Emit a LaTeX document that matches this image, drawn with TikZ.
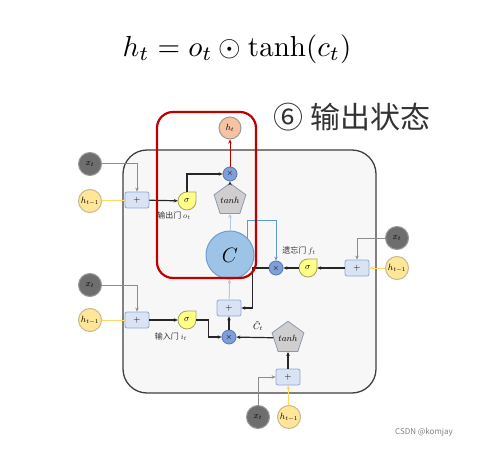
\documentclass[tikz,border=0pt]{standalone}
\usepackage{fontspec}
\newfontfamily\cjk{Noto Sans CJK SC}
\usetikzlibrary{shapes.geometric,arrows.meta,backgrounds}

\definecolor{cellfill}{HTML}{F7F7F7}
\definecolor{celldraw}{HTML}{3F3F3F}
\definecolor{xfill}{HTML}{6E6E6E}
\definecolor{xdraw}{HTML}{9A9A9A}
\definecolor{hfill}{HTML}{FFE699}
\definecolor{hdraw}{HTML}{C9B98A}
\definecolor{outfill}{HTML}{F8C3A3}
\definecolor{mulfill}{HTML}{7F9FD9}
\definecolor{muldraw}{HTML}{5577BB}
\definecolor{sumfill}{HTML}{DAE3F3}
\definecolor{sumdraw}{HTML}{8EAAD6}
\definecolor{cfill}{HTML}{9DC3E6}
\definecolor{cdraw}{HTML}{6D9FD0}
\definecolor{tanhfill}{HTML}{D0CECE}
\definecolor{tanhdraw}{HTML}{8A9AB5}
\definecolor{sigfill}{HTML}{FFFF88}
\definecolor{sigdraw}{HTML}{A5A55A}
\definecolor{redbox}{HTML}{C00000}
\definecolor{xline}{HTML}{8C8C8C}
\definecolor{hline}{HTML}{FFD966}
\definecolor{cline}{HTML}{5B9BD5}
\definecolor{paleline}{HTML}{B4C7E7}

\tikzset{
  xin/.style={circle,fill=xfill,draw=xdraw,line width=1pt,minimum size=23pt,inner sep=0pt,font=\small},
  hin/.style={circle,fill=hfill,draw=hdraw,line width=1pt,minimum size=23pt,inner sep=0pt,font=\small},
  hout/.style={circle,fill=outfill,draw=xdraw,line width=1pt,minimum size=22pt,inner sep=0pt,font=\small},
  mul/.style={circle,fill=mulfill,draw=muldraw,line width=0.8pt,minimum size=14pt,inner sep=0pt,font=\footnotesize},
  sum/.style={rectangle,rounded corners=2pt,fill=sumfill,draw=sumdraw,line width=0.8pt,minimum width=24pt,minimum height=16pt,inner sep=0pt,font=\small},
  sig/.style={circle,minimum size=18pt,inner sep=0pt,font=\small},
  tanhbox/.style={regular polygon,regular polygon sides=5,fill=tanhfill,draw=tanhdraw,line width=0.8pt,minimum size=28pt,inner sep=0pt,font=\small},
  gatelbl/.style={font=\cjk\fontsize{8}{9}\selectfont,text=black!80},
  arr/.style={->,line width=1.2pt,black!85},
  xarr/.style={line width=1pt,xline},
  harr/.style={line width=1pt,hline},
  carr/.style={->,line width=1pt,cline},
  parr/.style={->,line width=1pt,paleline},
}

\begin{document}
\begin{tikzpicture}[x=1pt,y=1pt,>={Stealth[length=4pt,width=3.5pt]}]
  \useasboundingbox (0,0) rectangle (479,-449);
  % formula e titolo
  \node[scale=2.9] (form) at (237,-49) {$h_t = o_t\odot\tanh(c_t)$};
  \node (titolo) at (352,-117) {\cjk\fontsize{30}{36}\selectfont\color{black!80}⑥ 输出状态};
  % stato
  \node[circle,fill=cfill,draw=cdraw,line width=1pt,minimum size=48pt,inner sep=0pt] (C) at (230,-255) {\huge $C$};
  \node[tanhbox] (to) at (230,-200) {$tanh$};
  \node[mul] (mo) at (230,-174) {$\times$};
  \node[hout] (ht) at (230,-128) {$h_t$};
  % porta di uscita
  \node[xin] (xo) at (90,-164) {$x_t$};
  \node[hin] (ho) at (90,-201) {$h_{t-1}$};
  \node[sum] (po) at (137,-200) {$+$};
  \node[sig] (so) at (187,-201) {$\sigma$};
  \node[gatelbl] at (174,-216) {输出门 $o_t$};
  % porta di dimenticanza
  \node[xin] (xf) at (397,-238) {$x_t$};
  \node[hin] (hf) at (397,-268) {$h_{t-1}$};
  \node[sum] (pf) at (357,-268) {$+$};
  \node[sig] (sf) at (308,-268) {$\sigma$};
  \node[mul] (mf) at (276,-268) {$\times$};
  \node[gatelbl] at (299,-251) {遗忘门 $f_t$};
  % porta di ingresso
  \node[xin] (xi) at (90,-285) {$x_t$};
  \node[hin] (hi) at (90,-320) {$h_{t-1}$};
  \node[sum] (pi) at (137,-320) {$+$};
  \node[sig] (si) at (187,-320) {$\sigma$};
  \node[gatelbl] at (171,-337) {输入门 $i_t$};
  \node[mul] (mi) at (229,-337) {$\times$};
  \node[sum] (pm) at (229,-308) {$+$};
  % candidato
  \node[tanhbox] (tb) at (288,-338) {$tanh$};
  \node[sum] (pb) at (288,-377) {$+$};
  \node[xin] (xb) at (258,-417) {$x_t$};
  \node[hin] (hb) at (289,-417) {$h_{t-1}$};
  % cella e gocce sigma
  \begin{pgfonlayer}{background}
    \draw[fill=cellfill,draw=celldraw,line width=1.3pt,rounded corners=24pt] (123,-150) rectangle (376,-393);
    \foreach \n in {so,sf,si}
      \draw[fill=sigfill,draw=sigdraw,line width=0.8pt] (\n.center) ++(-9,0) arc[start angle=180,end angle=360,radius=9] -- ++(0,9) -- ++(-9,0) arc[start angle=90,end angle=180,radius=9] -- cycle;
  \end{pgfonlayer}
  % collegamenti
  \draw[xarr,->] (xo) -| (po);
  \draw[harr] (ho) -- (po);
  \draw[arr] (po) -- (so);
  \draw[arr] (so.north) |- (mo);
  \draw[->,line width=1pt,redbox] (mo) -- (ht);
  \draw[parr] (C) -- (to);
  \draw[arr] (to) -- (mo);
  \draw[xarr,->] (xf) -| (pf);
  \draw[harr,->] (hf) -- (pf);
  \draw[arr] (pf) -- (sf);
  \draw[arr] (sf) -- (mf);
  \draw[carr] (C.north east) -- ++(0,17) -| (mf);
  \draw[arr] (mf.west) -- ++(-16,0) |- (pm.east);
  \draw[parr] (pm) -- (C);
  \draw[arr] (mi) -- (pm);
  \draw[xarr,->] (xi) -| (pi);
  \draw[harr] (hi) -- (pi);
  \draw[arr] (pi) -- (si);
  \draw[arr] (si.east) -- ++(12,0) |- (mi);
  \draw[arr] (tb) -- (mi);
  \node[font=\small,inner sep=1pt] (ct) at (258,-326) {$\tilde{C}_t$};
  \draw[arr] (pb) -- (tb);
  \draw[xarr,->] (xb) |- (pb);
  \draw[harr,->] (hb) -- (pb);
  % riquadro rosso
  \draw[redbox,line width=2.2pt,rounded corners=16pt] (157,-112) rectangle (256,-278);
  % firma
  \node[font=\cjk\fontsize{8}{10}\selectfont,text=black!50] at (424,-432) {CSDN @komjay};
\end{tikzpicture}
\end{document}
